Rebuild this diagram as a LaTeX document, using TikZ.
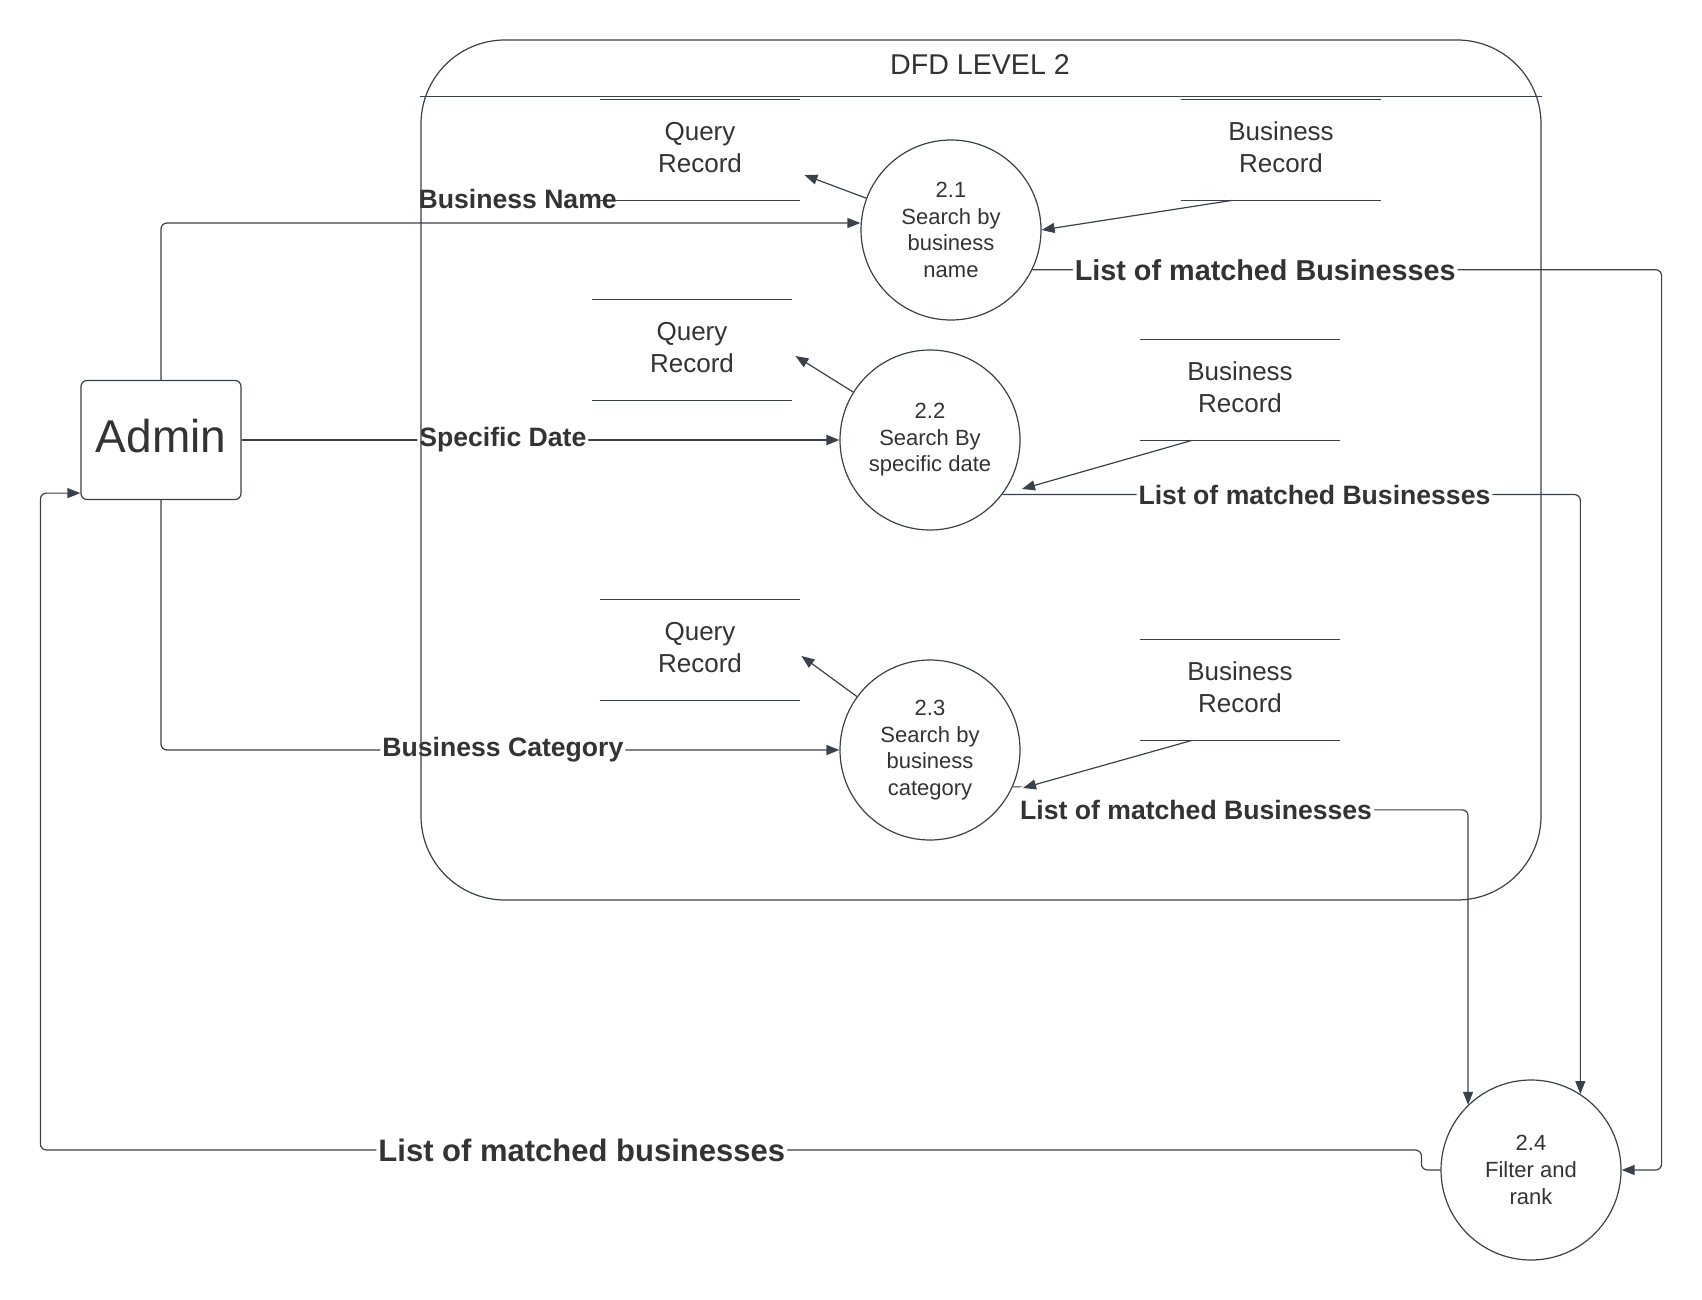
\documentclass[tikz,border=0pt]{standalone}
\usepackage{fontspec}
\setmainfont{Liberation Sans}
\usepackage{tikz}
\usetikzlibrary{arrows.meta}
\definecolor{ink}{HTML}{3A414A}
\definecolor{txt}{HTML}{333333}

\begin{document}
\begin{tikzpicture}[x=0.5pt, y=-0.5pt,
  panel/.style={draw=ink, line width=0.6pt, rounded corners=42pt, minimum width=560pt, minimum height=430pt},
  entity/.style={draw=ink, line width=0.6pt, rounded corners=3pt, minimum width=80pt, minimum height=59.5pt, text=txt, font=\fontsize{23}{27}\selectfont},
  process/.style={draw=ink, line width=0.6pt, circle, minimum size=90pt, inner sep=0pt, align=center, text=txt, font=\fontsize{11}{13.3}\selectfont},
  store/.style={minimum width=100pt, minimum height=50pt, align=center, text depth=3pt, text=txt, font=\fontsize{13}{16}\selectfont,
    append after command={(\tikzlastnode.north west) edge[draw=ink, line width=0.6pt] (\tikzlastnode.north east)
      (\tikzlastnode.south west) edge[draw=ink, line width=0.6pt] (\tikzlastnode.south east)}},
  flow/.style={draw=ink, line width=0.6pt, rounded corners=3pt, -{Triangle[length=6.5pt, width=5pt]}},
  flowtext/.style={fill=white, inner sep=1pt, text=txt, font=\bfseries\fontsize{13.3}{16}\selectfont}
]
\useasboundingbox (0,0) rectangle (1702,1300);
\node[entity, text depth=4pt] (admin) at (161,440) {Admin};
\node[process] (p21) at (951,230) {2.1\\Search by\\business\\name};
\node[process] (p22) at (930,440) {2.2\\Search By\\specific date};
\node[process] (p23) at (930,750) {2.3\\Search by\\business\\category};
\node[process] (p24) at (1531,1170) {2.4\\Filter and\\rank};
\node[store] (qr1) at (700,150) {Query\\Record};
\node[store] (qr2) at (692,350) {Query\\Record};
\node[store] (qr3) at (700,650) {Query\\Record};
\node[store] (br1) at (1281,150) {Business\\Record};
\node[store] (br2) at (1240,390) {Business\\Record};
\node[store] (br3) at (1240,690) {Business\\Record};
\draw[flow] (p21) -- ([shift={(4,25)}]qr1.east);
\draw[flow] ([xshift=-24.5pt]br1.south) -- (p21.east);
\draw[flow] (admin.north) |- node[flowtext, fill=none, pos=0.755, above=6pt] {Business Name} ([yshift=3.5pt]p21.west);
\draw[flow] (p21.-26) -| node[flowtext, pos=0.185, font=\bfseries\fontsize{14.4}{17}\selectfont] {List of matched Businesses} ([shift={(40,0)}]p24.east) -- (p24.east);
\draw[flow, line width=1.2pt] (admin.east) -- node[flowtext, pos=0.437] {Specific Date} (p22.west);
\draw[flow] (p22) -- ([shift={(3,6)}]qr2.east);
\draw[flow] ([xshift=-24pt]br2.south) -- ([shift={(92,49)}]p22.center);
\draw[flow] (p22.-37) -| node[flowtext, pos=0.27] {List of matched Businesses} (p24.57);
\draw[flow] (admin.south) |- node[flowtext, pos=0.752] {Business Category} (p23.west);
\draw[flow] (p23) -- ([shift={(1,6)}]qr3.east);
\draw[flow] (p23.-24) -- ++(25,0) -- ++(0,23) -| node[flowtext, inner ysep=7pt, pos=0.184] {List of matched Businesses} (p24.134);
\draw[flow] ([xshift=-24pt]br3.south) -- ([shift={(93,38)}]p23.center);
\draw[flow] (p24.west) -| ++(-19,-20) -| node[flowtext, pos=0.304, font=\bfseries\fontsize{15.5}{18}\selectfont] {List of matched businesses} ([shift={(-40,-7)}]admin.south west) -- ([yshift=3.5pt]admin.south west);
\node[panel] (lvl) at (981,470) {};
\node[text=txt, font=\fontsize{14.3}{17}\selectfont] (titulo) at (980,65) {DFD LEVEL 2};
\draw[ink, line width=0.6pt] ([yshift=-28.5pt]lvl.north west) -- ([yshift=-28.5pt]lvl.north east);
\end{tikzpicture}
\end{document}
